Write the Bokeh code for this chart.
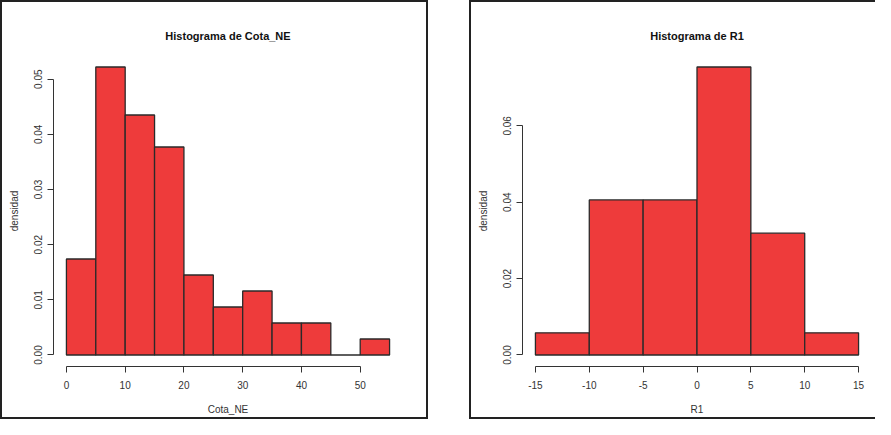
from bokeh.plotting import figure
from bokeh.layouts import row
from bokeh.models import FixedTicker, PrintfTickFormatter, Range1d
from bokeh.embed import file_html
from bokeh.resources import INLINE

# ---- data ----
cota_edges = [0, 5, 10, 15, 20, 25, 30, 35, 40, 45, 50, 55]
cota_density = [0.0174, 0.0522, 0.0435, 0.0377, 0.0145, 0.0087, 0.0116, 0.0058, 0.0058, 0.0, 0.0029]
cota_xticks = [0, 10, 20, 30, 40, 50]
cota_yticks = [0.00, 0.01, 0.02, 0.03, 0.04, 0.05]

r1_edges = [-15, -10, -5, 0, 5, 10, 15]
r1_density = [0.0058, 0.0406, 0.0406, 0.0754, 0.0319, 0.0058]
r1_xticks = [-15, -10, -5, 0, 5, 10, 15]
r1_yticks = [0.00, 0.02, 0.04, 0.06]

FONT = "Liberation Sans"
FILL = "#EE3B3B"
EDGE = "#2a2a2a"
TXT = "#333333"


def hist_fig(title, xlabel, edges, dens, xticks, yticks, width, mb, border_css):
    lo, hi = edges[0], edges[-1]
    ymax = max(dens)
    dx = (hi - lo) * 0.04
    dy = ymax * 0.04
    p = figure(width=width, height=419, output_backend="svg", toolbar_location=None,
               x_range=Range1d(lo - dx, hi + dx), y_range=Range1d(-dy, ymax + dy),
               min_border_left=mb[0], min_border_right=mb[1], min_border_top=mb[2],
               min_border_bottom=mb[3], title=title, styles=border_css)
    p.quad(left=edges[:-1], right=edges[1:], bottom=0, top=dens,
           fill_color=FILL, line_color=EDGE, line_width=1.3)
    p.grid.visible = False
    p.outline_line_color = None
    p.background_fill_color = "white"
    p.border_fill_color = "white"

    p.title.align = "center"
    p.title.text_font = FONT
    p.title.text_font_size = "11px"
    p.title.text_font_style = "bold"
    p.title.text_color = "#111111"
    p.title.standoff = 27

    for ax in (p.xaxis[0], p.yaxis[0]):
        ax.axis_line_color = TXT
        ax.axis_line_width = 1
        ax.major_tick_line_color = TXT
        ax.major_tick_in = 0
        ax.major_tick_out = 6
        ax.minor_tick_line_color = None
        ax.major_label_text_font = FONT
        ax.major_label_text_font_size = "10px"
        ax.major_label_text_color = TXT
        ax.axis_label_text_font = FONT
        ax.axis_label_text_font_size = "10px"
        ax.axis_label_text_font_style = "normal"
        ax.axis_label_text_color = TXT

    xa = p.xaxis[0]
    xa.ticker = FixedTicker(ticks=xticks)
    xa.formatter = PrintfTickFormatter(format="%d")
    xa.bounds = (xticks[0], xticks[-1])
    xa.axis_label = xlabel
    xa.major_label_standoff = 8
    xa.axis_label_standoff = 12

    ya = p.yaxis[0]
    ya.ticker = FixedTicker(ticks=yticks)
    ya.formatter = PrintfTickFormatter(format="%.2f")
    ya.bounds = (yticks[0], yticks[-1])
    ya.axis_label = "densidad"
    ya.major_label_orientation = "vertical"
    ya.major_label_standoff = 5
    ya.axis_label_standoff = 12
    return p


BORDER = "2px solid #222222"
p1 = hist_fig("Histograma de Cota_NE", "Cota_NE", cota_edges, cota_density,
              cota_xticks, cota_yticks, 428, (51, 28, 52, 55),
              {"border": BORDER, "box-sizing": "border-box"})
p2 = hist_fig("Histograma de R1", "R1", r1_edges, r1_density,
              r1_xticks, r1_yticks, 406, (51, 6, 53, 55),
              {"border-left": BORDER, "border-top": BORDER,
               "border-bottom": BORDER, "box-sizing": "border-box"})

layout = row(p1, p2, spacing=41)
open("out.html", "w").write(file_html(layout, INLINE))
